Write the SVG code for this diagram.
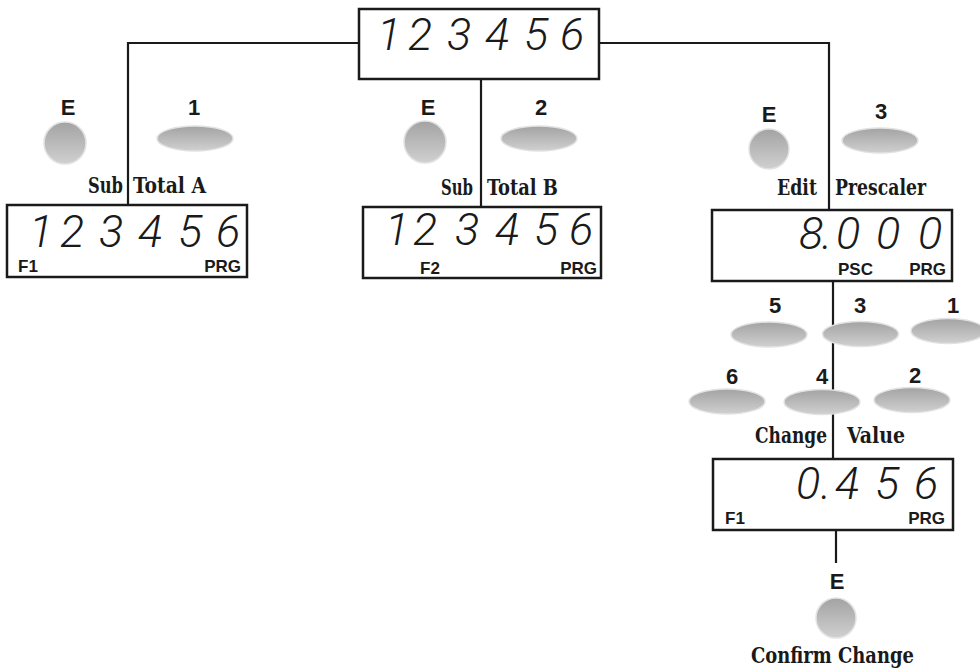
<svg xmlns="http://www.w3.org/2000/svg" width="980" height="670" viewBox="0 0 980 670">
<defs>
<linearGradient id="btn" x1="0" y1="0" x2="0" y2="1">
<stop offset="0" stop-color="#a3a3a3"/>
<stop offset="1" stop-color="#d0d0d0"/>
</linearGradient>
<style>
.box{fill:#fff;stroke:#1a1a1a;stroke-width:2.5}
.wire{fill:none;stroke:#1a1a1a;stroke-width:2.2}
.btn{fill:url(#btn);stroke:#e2e2e2;stroke-width:1.5}
.seg{font-family:Roboto,"Open Sans","DejaVu Sans",sans-serif;font-weight:300;font-style:italic;font-size:45px;fill:#1a1a1a;text-anchor:middle}
.ind{font-family:"Liberation Sans",Arial,sans-serif;font-weight:bold;font-size:17px;fill:#1a1a1a}
.key{font-family:"Liberation Sans",Arial,sans-serif;font-weight:bold;font-size:22px;fill:#1a1a1a;text-anchor:middle}
.lbl{font-family:"DejaVu Serif Condensed","DejaVu Serif","Liberation Serif",serif;font-stretch:condensed;font-weight:bold;font-size:22px;fill:#1a1a1a}
</style>
</defs>
<rect width="980" height="670" fill="#fff"/>
<g id="connectors">
<polyline class="wire" points="128,205 128,43 359,43"/>
<polyline class="wire" points="599,43 829,43 829,210"/>
<line class="wire" x1="481" y1="79" x2="481" y2="207"/>
<line class="wire" x1="833" y1="281" x2="833" y2="459"/>
<line class="wire" x1="836" y1="530" x2="836" y2="563"/>
</g>
<g id="display-main">
<rect class="box" x="359" y="9" width="240" height="70"/>
<text class="seg" x="389 420 459 497 536 572" y="50">123456</text>
</g>
<g id="display-subtotal-a">
<rect class="box" x="7" y="205" width="240" height="72"/>
<text class="seg" x="41 72 111 150 190 228" y="247">123456</text>
<text class="ind" x="18" y="272">F1</text>
<text class="ind" x="241" y="272" text-anchor="end">PRG</text>
</g>
<g id="display-subtotal-b">
<rect class="box" x="363" y="207" width="238" height="71"/>
<text class="seg" x="397 425 467 507 546 581" y="245">123456</text>
<text class="ind" x="420" y="274">F2</text>
<text class="ind" x="597" y="274" text-anchor="end">PRG</text>
</g>
<g id="display-prescaler">
<rect class="box" x="712" y="210" width="240" height="71"/>
<text class="seg" x="811 827 848 888 930" y="249">8.000</text>
<text class="ind" x="838" y="275">PSC</text>
<text class="ind" x="946" y="275" text-anchor="end">PRG</text>
</g>
<g id="display-value">
<rect class="box" x="713" y="459" width="240" height="71"/>
<text class="seg" x="808 826 847 887 926" y="499">0.456</text>
<text class="ind" x="725" y="524">F1</text>
<text class="ind" x="945" y="524" text-anchor="end">PRG</text>
</g>
<g id="btn-e-a">
<text class="key" x="68" y="115">E</text>
<circle class="btn" cx="65" cy="143" r="21"/>
</g>
<g id="btn-1-a">
<text class="key" x="194" y="115">1</text>
<ellipse class="btn" cx="195" cy="138.5" rx="38" ry="12.5"/>
</g>
<g id="label-a">
<text class="lbl" x="123" y="193" text-anchor="end" textLength="35" lengthAdjust="spacingAndGlyphs">Sub</text>
<text class="lbl" x="133" y="193" textLength="73" lengthAdjust="spacingAndGlyphs">Total A</text>
</g>
<g id="btn-e-b">
<text class="key" x="428" y="115">E</text>
<circle class="btn" cx="425" cy="142" r="21"/>
</g>
<g id="btn-2-b">
<text class="key" x="541" y="115">2</text>
<ellipse class="btn" cx="539" cy="138.5" rx="38" ry="12.5"/>
</g>
<g id="label-b">
<text class="lbl" x="473" y="195" text-anchor="end" textLength="32" lengthAdjust="spacingAndGlyphs">Sub</text>
<text class="lbl" x="487" y="195" textLength="71" lengthAdjust="spacingAndGlyphs">Total B</text>
</g>
<g id="btn-e-c">
<text class="key" x="769" y="122">E</text>
<circle class="btn" cx="769" cy="149" r="20"/>
</g>
<g id="btn-3-c">
<text class="key" x="881" y="119">3</text>
<ellipse class="btn" cx="880" cy="140.5" rx="38" ry="12.5"/>
</g>
<g id="label-c">
<text class="lbl" x="817" y="195" text-anchor="end" textLength="40" lengthAdjust="spacingAndGlyphs">Edit</text>
<text class="lbl" x="835" y="195" textLength="91" lengthAdjust="spacingAndGlyphs">Prescaler</text>
</g>
<g id="btn-5">
<text class="key" x="775" y="313">5</text>
<ellipse class="btn" cx="769" cy="334.5" rx="38" ry="12.5"/>
</g>
<g id="btn-3">
<text class="key" x="860" y="313">3</text>
<ellipse class="btn" cx="860.5" cy="334" rx="38" ry="12.5"/>
</g>
<g id="btn-1">
<text class="key" x="953" y="313">1</text>
<ellipse class="btn" cx="948" cy="331" rx="37" ry="12.5"/>
</g>
<g id="btn-6">
<text class="key" x="732" y="384">6</text>
<ellipse class="btn" cx="727" cy="401.5" rx="38" ry="12.5"/>
</g>
<g id="btn-4">
<text class="key" x="822" y="384">4</text>
<ellipse class="btn" cx="822" cy="402" rx="38" ry="12.5"/>
</g>
<g id="btn-2">
<text class="key" x="915" y="383">2</text>
<ellipse class="btn" cx="912" cy="400" rx="38" ry="12.5"/>
</g>
<g id="label-change">
<text class="lbl" x="827" y="443" text-anchor="end" textLength="72" lengthAdjust="spacingAndGlyphs">Change</text>
<text class="lbl" x="847" y="443" textLength="58" lengthAdjust="spacingAndGlyphs">Value</text>
</g>
<g id="btn-e-confirm">
<text class="key" x="837" y="589">E</text>
<circle class="btn" cx="836" cy="618" r="20"/>
</g>
<g id="label-confirm">
<text class="lbl" x="751" y="663" textLength="163" lengthAdjust="spacingAndGlyphs">Confirm Change</text>
</g>
</svg>
